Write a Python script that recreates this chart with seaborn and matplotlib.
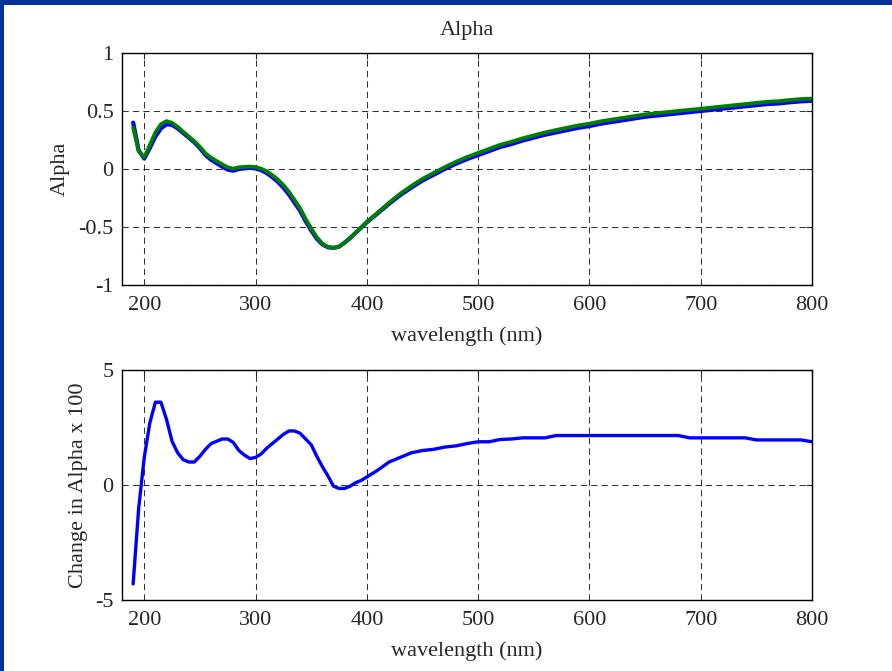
import numpy as np
import pandas as pd
import matplotlib
matplotlib.use("Agg")
import matplotlib.pyplot as plt
import seaborn as sns
from matplotlib.patches import Rectangle

# ---- data ----
wavelength = [190, 195, 200, 205, 210, 215, 220, 225, 230, 235, 240, 245, 250, 255,
              260, 265, 270, 275, 280, 285, 290, 295, 300, 305, 310, 315, 320, 325,
              330, 335, 340, 345, 350, 355, 360, 365, 370, 375, 380, 385, 390, 395,
              400, 410, 420, 430, 440, 450, 460, 470, 480, 490, 500, 510, 520, 530,
              540, 550, 560, 570, 580, 590, 600, 610, 620, 630, 640, 650, 660, 670,
              680, 690, 700, 710, 720, 730, 740, 750, 760, 770, 780, 790, 800]

alpha_blue = [0.40, 0.16, 0.09, 0.18, 0.28, 0.35, 0.385, 0.38, 0.35, 0.31, 0.27, 0.23,
              0.18, 0.12, 0.08, 0.05, 0.02, -0.005, -0.015, 0.0, 0.005, 0.01, 0.005,
              -0.01, -0.035, -0.07, -0.11, -0.16, -0.22, -0.29, -0.36, -0.45, -0.53,
              -0.60, -0.65, -0.675, -0.68, -0.67, -0.635, -0.595, -0.55, -0.505, -0.46,
              -0.38, -0.30, -0.225, -0.16, -0.10, -0.05, 0.0, 0.045, 0.085, 0.12, 0.155,
              0.19, 0.215, 0.245, 0.27, 0.295, 0.315, 0.335, 0.355, 0.37, 0.39, 0.405,
              0.42, 0.435, 0.45, 0.46, 0.47, 0.48, 0.49, 0.50, 0.51, 0.52, 0.53, 0.54,
              0.55, 0.56, 0.565, 0.575, 0.583, 0.588]

alpha_green = [0.357, 0.150, 0.102, 0.207, 0.316, 0.386, 0.413, 0.399, 0.364, 0.321,
               0.280, 0.240, 0.192, 0.135, 0.098, 0.069, 0.040, 0.015, 0.003, 0.015,
               0.018, 0.021, 0.017, 0.003, -0.019, -0.052, -0.090, -0.138, -0.196,
               -0.266, -0.337, -0.430, -0.512, -0.587, -0.642, -0.671, -0.680, -0.671,
               -0.636, -0.595, -0.549, -0.503, -0.456, -0.373, -0.290, -0.213, -0.146,
               -0.085, -0.034, 0.016, 0.062, 0.103, 0.139, 0.174, 0.210, 0.235, 0.265,
               0.290, 0.315, 0.336, 0.356, 0.376, 0.391, 0.411, 0.426, 0.441, 0.456,
               0.471, 0.481, 0.491, 0.501, 0.510, 0.520, 0.530, 0.540, 0.550, 0.560,
               0.570, 0.580, 0.585, 0.595, 0.603, 0.607]

change_x100 = [-4.3, -1.0, 1.2, 2.7, 3.6, 3.6, 2.85, 1.9, 1.4, 1.1, 1.0, 1.0, 1.25, 1.55,
               1.8, 1.9, 2.0, 2.0, 1.85, 1.5, 1.3, 1.15, 1.2, 1.35, 1.6, 1.8, 2.0, 2.2,
               2.35, 2.35, 2.25, 2.0, 1.75, 1.25, 0.8, 0.4, -0.05, -0.15, -0.15, -0.05,
               0.1, 0.2, 0.35, 0.65, 1.0, 1.2, 1.4, 1.5, 1.55, 1.65, 1.7, 1.8, 1.88,
               1.88, 1.98, 2.0, 2.05, 2.05, 2.05, 2.15, 2.15, 2.15, 2.15, 2.15, 2.15,
               2.15, 2.15, 2.15, 2.15, 2.15, 2.15, 2.05, 2.05, 2.05, 2.05, 2.05, 2.05,
               1.96, 1.96, 1.96, 1.96, 1.96, 1.88]

x_ticks = [200, 300, 400, 500, 600, 700, 800]
top_yticks = [-1, -0.5, 0, 0.5, 1]
top_yticklabels = ["-1", "-0.5", "0", "0.5", "1"]
bot_yticks = [-5, 0, 5]
bot_yticklabels = ["-5", "0", "5"]

df = pd.DataFrame({"wavelength": wavelength, "blue": alpha_blue,
                   "green": alpha_green, "change": change_x100})

# ---- style ----
sns.set_style("white")
plt.rcParams["font.family"] = ["Liberation Serif", "DejaVu Serif"]
plt.rcParams["font.size"] = 16

FS = 16

fig = plt.figure(figsize=(8.92, 6.71), dpi=100)
fig.patch.set_facecolor("white")

# dark blue frame strips (top and left)
fig.patches.append(Rectangle((0, 1 - 4.5 / 671), 1, 4.5 / 671, transform=fig.transFigure,
                             facecolor="#003399", edgecolor="none", zorder=10))
fig.patches.append(Rectangle((0, 0), 4 / 892, 1, transform=fig.transFigure,
                             facecolor="#003399", edgecolor="none", zorder=10))

ax1 = fig.add_axes([122 / 892, 1 - 285 / 671, 690 / 892, 232 / 671])
ax2 = fig.add_axes([122 / 892, 1 - 600 / 671, 690 / 892, 230 / 671])

sns.lineplot(data=df, x="wavelength", y="blue", ax=ax1, color="#0000FF", lw=3.0,
             sort=False, zorder=3)
sns.lineplot(data=df, x="wavelength", y="green", ax=ax1, color="#008000", lw=2.7,
             sort=False, zorder=4)
sns.lineplot(data=df, x="wavelength", y="change", ax=ax2, color="#0000FF", lw=2.4,
             sort=False, zorder=3)

for ax in (ax1, ax2):
    ax.set_xlim(180, 800)
    ax.set_xticks(x_ticks)
    ax.set_xticklabels([str(t) for t in x_ticks])
    ax.grid(True, color="black", linestyle=(0, (6, 4)), linewidth=0.75, alpha=0.8)
    ax.set_axisbelow(True)
    for s in ax.spines.values():
        s.set_visible(True)
        s.set_color("black")
        s.set_linewidth(1.0)
    ax.tick_params(direction="in", length=4, width=0.8, labelsize=FS, pad=8,
                   top=True, right=True)
    ax.tick_params(axis="y", pad=6)
    ax.set_xlabel("wavelength (nm)", fontsize=FS, labelpad=8)

ax1.set_ylim(-1, 1)
ax1.set_yticks(top_yticks)
ax1.set_yticklabels(top_yticklabels)
ax1.set_ylabel("Alpha", fontsize=FS, labelpad=6)
ax1.set_title("Alpha", fontsize=FS, pad=13)

ax2.set_ylim(-5, 5)
ax2.set_yticks(bot_yticks)
ax2.set_yticklabels(bot_yticklabels)
ax2.set_ylabel("Change in Alpha x 100", fontsize=FS, labelpad=5)

fig.savefig("out.png", dpi=100)
